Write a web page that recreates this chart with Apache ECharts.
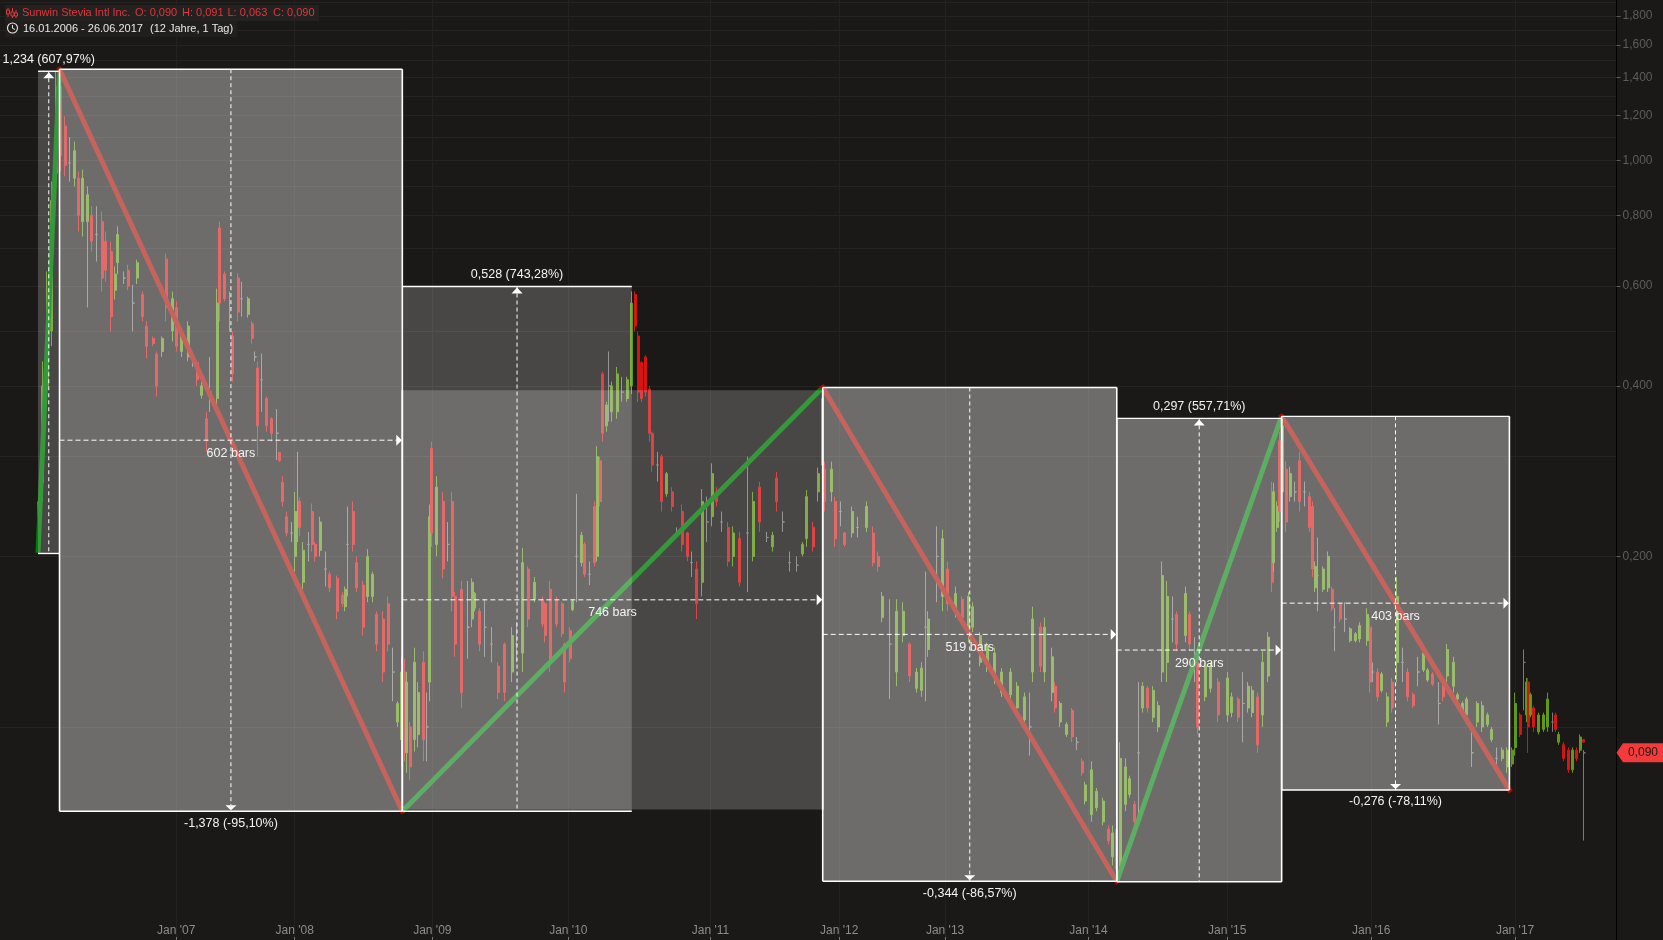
<!DOCTYPE html>
<html><head><meta charset="utf-8">
<style>html,body{margin:0;padding:0;background:#1a1917}#c{width:1663px;height:940px}</style>
<script src="https://cdn.jsdelivr.net/npm/echarts@6/dist/echarts.min.js"></script>
</head><body><div id="c"></div>
<script>
// Candle rows: [bar, open, close, low, high]; open == close marks an unchanged (grey) bar
const candlesRise2006=[[0,.21,.24,.204,.25],[8,.27,.4,.25,.442],[16,.4,.58,.375,.637],[24,.5,.85,.47,.918],[32,.95,1.35,.882,1.436]];
const candlesFall2006=[[40,1.35,1.02,.956,1.42],[48,1.15,.98,.937,1.196],[56,.99,.99,.918,1.1],[64,.93,1.04,.9,1.08],[72,.93,.8,.749,.956],[79,.78,.93,.734,.963],[88,.78,.87,.55,.9],[95,.8,.72,.691,.83],[104,.74,.74,.663,.83],[113,.78,.62,.587,.813],[120,.72,.64,.611,.749],[129,.69,.53,.499,.719],[136,.59,.63,.568,.65],[141,.66,.74,.63,.765],[152,.62,.62,.605,.637],[159,.64,.6,.59,.655],[168,.56,.56,.499,.603],[175,.62,.66,.605,.668],[184,.58,.53,.52,.587],[192,.51,.47,.447,.52],[203,.485,.475,.47,.489],[210,.455,.4,.383,.46],[219,.46,.485,.45,.489],[226,.67,.55,.52,.685],[237,.5,.57,.479,.587]];
const candles2007=[[245,.55,.47,.46,.564],[254,.46,.49,.45,.499],[265,.45,.51,.442,.52],[274,.44,.44,.432,.442],[281,.44,.41,.4,.442],[289,.385,.4,.38,.407],[298,.35,.32,.306,.36],[304,.39,.39,.36,.45],[316,.38,.56,.36,.594],[321,.76,.56,.52,.78],[330,.63,.57,.564,.637],[339,.55,.55,.499,.587],[344,.49,.42,.407,.499],[353,.62,.54,.52,.632],[360,.57,.57,.53,.611],[371,.535,.57,.528,.575],[378,.515,.485,.475,.52],[383,.45,.45,.442,.46],[388,.43,.34,.3,.442],[395,.41,.41,.36,.456],[404,.38,.34,.332,.383],[413,.35,.33,.319,.352],[422,.33,.33,.296,.364],[427,.305,.295,.294,.306],[432,.27,.25,.245,.277],[439,.235,.22,.217,.24],[447,.22,.22,.212,.23]];
const candles2008=[[454,.2,.24,.188,.26],[459,.25,.25,.212,.306],[462,.25,.225,.217,.254],[468,.18,.205,.175,.212],[477,.21,.21,.196,.221],[484,.24,.21,.204,.248],[489,.21,.2,.196,.212],[498,.205,.23,.2,.235],[507,.19,.19,.177,.204],[515,.186,.176,.173,.188],[528,.183,.16,.155,.185],[537,.171,.165,.163,.173],[542,.163,.175,.16,.177],[547,.21,.21,.17,.245],[556,.24,.21,.204,.25],[563,.195,.176,.173,.2],[574,.178,.15,.145,.181],[582,.17,.2,.166,.206],[591,.17,.186,.166,.188],[598,.158,.14,.136,.16],[609,.155,.125,.12,.16],[618,.165,.14,.136,.17],[627,.125,.125,.111,.138],[635,.102,.11,.1,.111],[642,.095,.125,.085,.133]];
const candles2009=[[648,.125,.092,.087,.132],[651,.09,.12,.083,.125],[657,.1,.085,.0805,.102],[665,.095,.13,.0905,.138],[671,.097,.115,.092,.12],[680,.13,.095,.087,.136],[687,.1,.1,.087,.115],[691,.12,.235,.111,.247],[695,.31,.22,.208,.319],[704,.21,.265,.2,.277],[715,.25,.19,.183,.26],[724,.21,.21,.196,.23],[731,.25,.17,.16,.26],[736,.17,.14,.133,.173],[748,.175,.115,.108,.181],[759,.15,.15,.132,.181],[766,.155,.18,.15,.183],[771,.162,.172,.16,.173],[780,.16,.14,.136,.162],[789,.15,.15,.133,.168],[801,.14,.14,.13,.15],[812,.128,.115,.112,.13],[824,.14,.115,.111,.141],[837,.125,.145,.12,.15],[845,.14,.14,.13,.153],[856,.135,.195,.125,.207],[865,.19,.155,.15,.192],[877,.168,.18,.166,.184],[890,.168,.152,.15,.17],[895,.165,.145,.141,.166],[904,.175,.13,.125,.181],[916,.168,.152,.15,.17],[925,.165,.146,.144,.166]];
const candles2010=[[930,.14,.12,.115,.141],[939,.148,.132,.13,.15],[944,.161,.167,.16,.168],[950,.2,.2,.166,.258],[960,.195,.218,.192,.221],[965,.21,.186,.184,.212],[974,.186,.186,.178,.196],[983,.245,.195,.192,.25],[987,.2,.3,.196,.313],[992,.295,.25,.245,.3],[997,.42,.33,.319,.424],[1004,.34,.37,.332,.375],[1008,.4,.4,.346,.46],[1013,.36,.4,.346,.407],[1022,.36,.42,.35,.432],[1031,.39,.39,.375,.415],[1040,.38,.41,.375,.415],[1048,.4,.56,.387,.587],[1054,.58,.51,.499,.587],[1059,.49,.39,.375,.499],[1066,.44,.38,.375,.442],[1073,.45,.39,.383,.453],[1080,.395,.33,.319,.4],[1084,.33,.29,.282,.332],[1093,.29,.29,.271,.306],[1101,.3,.25,.24,.303],[1110,.258,.28,.255,.282],[1119,.26,.245,.24,.265],[1128,.22,.22,.216,.225],[1137,.24,.21,.204,.247],[1146,.22,.2,.196,.221],[1154,.195,.195,.184,.204],[1163,.19,.165,.155,.196]];
const candles2011=[[1172,.18,.25,.17,.263],[1181,.23,.23,.212,.255],[1190,.235,.28,.226,.292],[1198,.26,.25,.245,.265],[1207,.23,.23,.221,.24],[1218,.225,.196,.192,.23],[1227,.2,.22,.192,.226],[1239,.215,.18,.177,.221],[1253,.22,.22,.173,.3],[1262,.2,.25,.196,.26],[1274,.265,.23,.221,.271],[1287,.216,.216,.212,.221],[1297,.208,.218,.204,.221],[1304,.275,.25,.24,.282],[1315,.23,.23,.221,.24],[1327,.195,.195,.188,.204],[1340,.193,.193,.188,.2],[1350,.202,.21,.2,.212],[1357,.215,.255,.208,.262],[1368,.225,.208,.204,.23],[1377,.26,.28,.25,.287],[1385,.29,.38,.282,.391],[1389,.285,.25,.24,.294],[1401,.26,.285,.25,.294],[1407,.25,.215,.208,.255]];
const candles2012=[[1416,.24,.24,.226,.25],[1424,.22,.21,.208,.221],[1437,.22,.24,.216,.245],[1447,.225,.225,.216,.235],[1463,.225,.245,.221,.25],[1474,.22,.195,.192,.226],[1483,.2,.192,.188,.204],[1490,.156,.17,.153,.173],[1504,.14,.14,.112,.168],[1516,.125,.16,.118,.168],[1527,.145,.16,.141,.166],[1539,.14,.123,.12,.141],[1551,.117,.125,.115,.127],[1560,.116,.127,.113,.13],[1566,.15,.15,.111,.188],[1571,.137,.155,.133,.16],[1587,.2,.2,.166,.226],[1596,.17,.215,.16,.223]];
const candles2013=[[1606,.19,.165,.16,.196],[1619,.16,.172,.156,.177],[1631,.168,.156,.153,.17],[1642,.15,.17,.141,.173],[1650,.15,.163,.147,.166],[1663,.13,.145,.128,.147],[1675,.128,.139,.125,.141],[1689,.122,.135,.119,.138],[1701,.115,.125,.113,.127],[1716,.114,.125,.111,.127],[1728,.108,.118,.106,.12],[1742,.103,.113,.1,.115],[1751,.1,.1,.089,.115],[1756,.125,.155,.12,.163],[1769,.15,.128,.125,.153],[1777,.125,.15,.12,.156],[1790,.115,.133,.111,.138],[1795,.118,.108,.106,.12],[1804,.102,.11,.1,.111],[1816,.097,.101,.096,.102],[1825,.107,.096,.094,.108],[1834,.094,.094,.091,.096],[1843,.087,.083,.082,.088]];
const candles2014=[[1848,.074,.079,.073,.08],[1860,.07,.084,.068,.087],[1869,.072,.077,.071,.078],[1880,.068,.074,.067,.075],[1889,.066,.063,.062,.067],[1897,.059,.065,.057,.067],[1904,.066,.056,.0533,.068],[1910,.056,.088,.0533,.094],[1919,.073,.085,.071,.088],[1927,.076,.081,.075,.082],[1936,.073,.068,.067,.074],[1942,.09,.09,.067,.12],[1950,.108,.118,.106,.12],[1959,.117,.108,.106,.118],[1968,.104,.116,.102,.118],[1977,.1,.109,.098,.111],[1984,.125,.185,.12,.196],[1993,.13,.17,.12,.181],[2002,.155,.155,.141,.17],[2010,.158,.14,.136,.16],[2025,.145,.172,.141,.177],[2033,.158,.14,.136,.16],[2042,.13,.13,.12,.144],[2047,.13,.1,.097,.136],[2060,.113,.128,.111,.13],[2069,.117,.128,.115,.13],[2083,.12,.105,.102,.122]];
const candles2015=[[2099,.105,.122,.102,.125],[2107,.106,.113,.104,.115],[2118,.112,.104,.102,.113],[2127,.11,.11,.094,.125],[2136,.108,.118,.106,.12],[2143,.106,.116,.104,.118],[2153,.113,.093,.09,.115],[2162,.105,.13,.1,.136],[2171,.123,.144,.12,.147],[2178,.26,.18,.173,.271],[2181,.195,.26,.188,.27],[2187,.225,.245,.221,.25],[2192,.32,.24,.23,.332],[2196,.26,.34,.25,.346],[2203,.285,.23,.221,.294],[2210,.255,.28,.25,.288],[2219,.26,.26,.25,.271],[2227,.295,.25,.24,.306],[2236,.26,.26,.245,.271],[2245,.255,.225,.221,.26],[2250,.245,.19,.184,.25],[2254,.176,.192,.173,.196],[2259,.185,.185,.16,.216],[2268,.175,.19,.173,.192],[2277,.176,.2,.173,.204],[2284,.175,.162,.16,.177],[2289,.15,.15,.136,.162],[2298,.165,.155,.153,.166],[2307,.155,.155,.147,.166],[2316,.142,.149,.141,.15],[2325,.142,.146,.141,.147],[2333,.143,.151,.141,.153],[2346,.142,.158,.139,.162]];
const candles2016=[[2351,.15,.12,.115,.156],[2356,.125,.125,.12,.13],[2365,.125,.113,.111,.127],[2372,.116,.124,.115,.125],[2381,.102,.113,.1,.115],[2390,.12,.108,.106,.122],[2399,.13,.17,.12,.184],[2409,.13,.13,.12,.138],[2418,.125,.113,.111,.127],[2427,.114,.109,.108,.115],[2436,.125,.125,.118,.133],[2445,.126,.135,.125,.136],[2453,.121,.126,.12,.127],[2462,.124,.119,.118,.125],[2473,.11,.11,.101,.12],[2480,.12,.113,.111,.122],[2487,.123,.137,.12,.14],[2498,.118,.13,.115,.133],[2506,.112,.114,.111,.115],[2515,.105,.11,.104,.111],[2522,.105,.112,.104,.113],[2531,.09,.09,.085,.098],[2540,.102,.11,.1,.111],[2549,.1,.109,.098,.111],[2558,.101,.105,.1,.106],[2566,.095,.099,.094,.1],[2575,.088,.088,.085,.092],[2584,.088,.091,.087,.092],[2593,.085,.091,.083,.092],[2602,.086,.091,.085,.092]];
const candles2017=[[2607,.092,.11,.089,.115],[2616,.105,.097,.096,.106],[2623,.13,.13,.107,.137],[2628,.105,.12,.102,.122],[2630,.12,.1,.09,.122],[2635,.105,.114,.104,.115],[2640,.108,.1,.098,.109],[2649,.098,.105,.097,.106],[2658,.099,.105,.098,.106],[2665,.1,.112,.098,.115],[2673,.102,.102,.098,.106],[2679,.105,.099,.098,.106],[2684,.094,.097,.093,.098],[2693,.093,.088,.087,.094],[2701,.091,.084,.083,.092],[2708,.084,.091,.083,.092],[2716,.091,.088,.087,.092],[2722,.091,.096,.09,.097],[2727,.095,.094,.094,.095],[2729,.09,.09,.063,.091]];

// Swing points of the zigzag drawing
const swingBars=[0,38,643,1385,1904,2195,2597];
const swingPrices=[.203,1.449,.071,.3974,.0534,.3534,.0774];

// Measuring-tool ranges: [startBar, endBar, lowPrice, highPrice]
const priceRanges=[[0,38,.2024,1.437],[38,643,.071,1.449],[643,1048,.071,.599],[1385,1904,.0534,.3974],[1904,2195,.0533,.3505],[2195,2597,.0774,.3534]];
const priceLabels=['1,234 (607,97%)','-1,378 (-95,10%)','0,528 (743,28%)','-0,344 (-86,57%)','0,297 (557,71%)','-0,276 (-78,11%)'];
const priceDirections=['up','down','up','down','up','down'];
const barRanges=[[38,643,.071,1.449],[643,1385,.0715,.393],[1385,1904,.0534,.3974],[1904,2195,.0533,.3505],[2195,2597,.0774,.3534]];
const barLabels=['602 bars','746 bars','519 bars','290 bars','403 bars'];

// Axes
const janBars=[244,453,696,936,1187,1414,1601,1854,2099,2353,2607];
const janLabels=["Jan '07","Jan '08","Jan '09","Jan '10","Jan '11","Jan '12","Jan '13","Jan '14","Jan '15","Jan '16","Jan '17"];
const priceTicks=[1.8,1.6,1.4,1.2,1,.8,.6,.4,.2];
const priceGrid=[.1,.2,.3,.4,.5,.6,.7,.8,.9,1,1.1,1.2,1.3,1.4,1.5,1.6,1.7,1.8,1.9];
const lastPrice=.09, lastPriceLabel='0,090';

const candles=[].concat(candlesRise2006,candlesFall2006,candles2007,candles2008,candles2009,candles2010,candles2011,candles2012,candles2013,candles2014,candles2015,candles2016,candles2017);
const FONT='"Liberation Sans",Arial,sans-serif';
const fmt=v=>v.toFixed(3).replace('.',',');
const WHITE='#ffffff';

function rectFill(r,api){
  const a=api.coord([r[0],r[3]]),b=api.coord([r[1],r[2]]);
  return {type:'rect',shape:{x:a[0],y:a[1],width:b[0]-a[0],height:b[1]-a[1]},style:{fill:'rgba(255,255,255,0.205)'}};
}
function seg(x1,y1,x2,y2,w,dash){
  return {type:'line',shape:{x1,y1,x2,y2},style:{stroke:WHITE,lineWidth:w,lineDash:dash||null}};
}
function tri(p){return {type:'polygon',shape:{points:p},style:{fill:WHITE}};}
function lab(x,y,t){return {type:'text',style:{x,y,text:t,fill:'#f4f4f4',font:'12.5px '+FONT,align:'center',verticalAlign:'middle'}};}

function rangeBase(name,rows){
  return {type:'custom',name,data:rows,encode:{x:[0,1],y:[2,3]},clip:false,silent:true,animation:false,z:4,renderItem:(p,api)=>rectFill(rows[p.dataIndex],api)};
}

const zigzagSeries=swingBars.slice(1).map((b,i)=>{
  const up=swingPrices[i+1]>swingPrices[i];
  return {
    type:'line',name:'zigzag'+i,data:[[swingBars[i],swingPrices[i]],[b,swingPrices[i+1]]],
    symbol:'none',silent:true,animation:false,clip:false,z:3,
    lineStyle:{width:5,color:up?'#007f08':'#a80a00',cap:up?'butt':'square'}
  };
});

const headerRed='#e2353a', headerWhite='#e8e8e8';
const hText=(x,y,t,c)=>({type:'text',x,y,z:101,silent:true,style:{text:t,fill:c,font:'11px '+FONT,verticalAlign:'middle'}});
const hLine=(x1,y1,x2,y2,c)=>({type:'line',z:101,silent:true,shape:{x1,y1,x2,y2},style:{stroke:c,lineWidth:1}});

const option={
  backgroundColor:'#1a1917',animation:false,textStyle:{fontFamily:FONT},
  grid:{left:0,right:46.5,top:0,bottom:0,containLabel:false},
  xAxis:{type:'value',min:-67.07,max:2786,position:'bottom',
    axisLine:{show:false},
    axisTick:{inside:true,length:3,customValues:janBars,lineStyle:{color:'#777'}},
    axisLabel:{inside:true,margin:3,customValues:janBars,color:'#8c8c8c',fontSize:12,fontFamily:FONT,
      formatter:v=>janLabels[janBars.indexOf(v)]||''},
    splitLine:{show:true,lineStyle:{color:'#232220',width:1}}},
  yAxis:[
    {type:'log',min:.04206,max:1.9198,position:'right',logBase:10,
     axisLine:{show:false},axisLabel:{show:false},
     axisTick:{show:false,customValues:priceGrid},
     splitLine:{show:true,lineStyle:{color:'#252422',width:1}}},
    {type:'log',min:.04206,max:1.9198,position:'right',logBase:10,
     axisLine:{show:true,lineStyle:{color:'#000',width:1}},
     axisTick:{show:true,length:4,customValues:priceTicks,lineStyle:{color:'#5c5c5c'}},
     axisLabel:{show:true,margin:6,customValues:priceTicks,color:'#5c5c5c',fontSize:12,fontFamily:FONT,align:'left',formatter:v=>fmt(v)},
     splitLine:{show:false}}
  ],
  tooltip:{show:false},
  graphic:[
    {type:'rect',z:100,silent:true,shape:{x:5,y:5,width:314,height:16},style:{fill:'#232220'}},
    {type:'rect',z:100,silent:true,shape:{x:5,y:21,width:232,height:16},style:{fill:'#201f1d'}},
    hText(22,13,'Sunwin Stevia Intl Inc.',headerRed),
    hText(135,13,'O: 0,090',headerRed),
    hText(182,13,'H: 0,091',headerRed),
    hText(227.5,13,'L: 0,063',headerRed),
    hText(273,13,'C: 0,090',headerRed),
    hText(23,29,'16.01.2006 - 26.06.2017',headerWhite),
    hText(150,29,'(12 Jahre, 1 Tag)',headerWhite),
    hLine(8,8,8,17,headerRed),hLine(12.5,8,12.5,18,headerRed),hLine(16,10,16,18,headerRed),
    {type:'rect',z:101,silent:true,shape:{x:6.5,y:10,width:3,height:4},style:{fill:'#232220',stroke:headerRed,lineWidth:1}},
    {type:'rect',z:101,silent:true,shape:{x:11,y:12,width:3,height:4},style:{fill:'#232220',stroke:headerRed,lineWidth:1}},
    {type:'rect',z:101,silent:true,shape:{x:14.5,y:13,width:3,height:3},style:{fill:'#232220',stroke:headerRed,lineWidth:1}},
    {type:'circle',z:101,silent:true,shape:{cx:12.5,cy:28,r:5},style:{fill:'none',stroke:headerWhite,lineWidth:1.1}},
    {type:'polyline',z:101,silent:true,shape:{points:[[12.5,25],[12.5,28.3],[15,29.5]]},style:{fill:'none',stroke:headerWhite,lineWidth:1}}
  ],
  series:[
    {type:'candlestick',name:'Sunwin Stevia Intl Inc.',data:candles,encode:{x:0,y:[1,2,3,4]},barWidth:2.5,silent:true,animation:false,z:2,large:false,progressive:0,
     itemStyle:{color:'#609819',color0:'#d51414',borderColor:'#609819',borderColor0:'#d51414',borderColorDoji:'#7a7a7a',borderWidth:1}},
    ...zigzagSeries,
    rangeBase('priceFill',priceRanges),
    rangeBase('barFill',barRanges),
    {type:'custom',name:'priceRanges',data:priceRanges,encode:{x:[0,1],y:[2,3]},clip:false,silent:true,animation:false,z:5,
     renderItem(p,api){
       const r=priceRanges[p.dataIndex],a=api.coord([r[0],r[3]]),b=api.coord([r[1],r[2]]);
       const cx=(a[0]+b[0])/2,up=priceDirections[p.dataIndex]==='up';
       const kids=[seg(a[0],a[1],b[0],a[1],1.4),seg(a[0],b[1],b[0],b[1],1.4),seg(cx,a[1],cx,b[1],1,[4,3])];
       kids.push(up?tri([[cx,a[1]+1],[cx-5.5,a[1]+7],[cx+5.5,a[1]+7]]):tri([[cx,b[1]-1],[cx-5.5,b[1]-6],[cx+5.5,b[1]-6]]));
       kids.push(lab(cx,up?a[1]-12:b[1]+12,priceLabels[p.dataIndex]));
       return {type:'group',children:kids};
     }},
    {type:'custom',name:'barRanges',data:barRanges,encode:{x:[0,1],y:[2,3]},clip:false,silent:true,animation:false,z:5,
     renderItem(p,api){
       const r=barRanges[p.dataIndex],a=api.coord([r[0],r[3]]),b=api.coord([r[1],r[2]]);
       const cx=(a[0]+b[0])/2,cy=(a[1]+b[1])/2;
       return {type:'group',children:[
         seg(a[0],a[1],a[0],b[1],1.6),seg(b[0],a[1],b[0],b[1],1.6),
         seg(a[0],cy,b[0]-4,cy,1,[5,3]),
         tri([[b[0]-0.5,cy],[b[0]-6,cy-5.5],[b[0]-6,cy+5.5]]),
         lab(cx,cy+13,barLabels[p.dataIndex])
       ]};
     }},
    {type:'custom',name:'lastPrice',data:[[2786,lastPrice]],encode:{x:0,y:1},clip:false,silent:true,animation:false,z:6,
     renderItem(p,api){
       const c=api.coord([2786,lastPrice]);
       return {type:'group',children:[
         {type:'polygon',shape:{points:[[c[0],c[1]],[c[0]+6.5,c[1]-9.5],[1663,c[1]-9.5],[1663,c[1]+9.5],[c[0]+6.5,c[1]+9.5]]},style:{fill:'#f43b3b'}},
         {type:'text',style:{x:c[0]+26.5,y:c[1],text:lastPriceLabel,fill:'#1a1917',font:'12px '+FONT,align:'center',verticalAlign:'middle'}}
       ]};
     }}
  ]
};
const chart=echarts.init(document.getElementById('c'),null,{renderer:'canvas',width:1663,height:940});
chart.setOption(option);
</script></body></html>
